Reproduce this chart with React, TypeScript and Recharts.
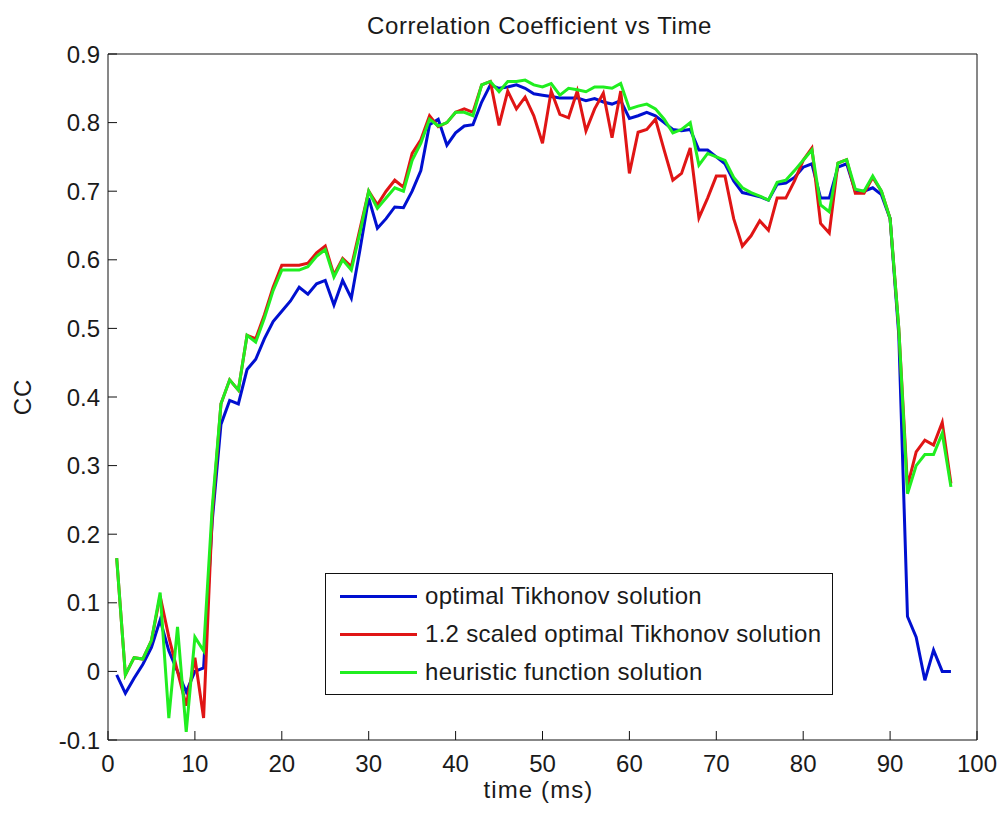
import { LineChart, Line, XAxis, YAxis, Legend } from "recharts";

const times = [
  1, 2, 3, 4, 5, 6, 7, 8, 9, 10, 11, 12, 13, 14, 15, 16, 17, 18, 19, 20,
  21, 22, 23, 24, 25, 26, 27, 28, 29, 30, 31, 32, 33, 34, 35, 36, 37, 38, 39, 40,
  41, 42, 43, 44, 45, 46, 47, 48, 49, 50, 51, 52, 53, 54, 55, 56, 57, 58, 59, 60,
  61, 62, 63, 64, 65, 66, 67, 68, 69, 70, 71, 72, 73, 74, 75, 76, 77, 78, 79, 80,
  81, 82, 83, 84, 85, 86, 87, 88, 89, 90, 91, 92, 93, 94, 95, 96, 97,
];

const optimal = [
  -0.005, -0.032, -0.01, 0.01, 0.035, 0.075, 0.03, 0.0, -0.03, 0.0,
  0.005, 0.22, 0.36, 0.395, 0.39, 0.44, 0.455, 0.485, 0.51, 0.525,
  0.54, 0.56, 0.55, 0.565, 0.57, 0.534, 0.57, 0.544, 0.615, 0.69,
  0.646, 0.66, 0.677, 0.676, 0.7, 0.73, 0.797, 0.805, 0.767, 0.785,
  0.795, 0.797, 0.83, 0.855, 0.85, 0.852, 0.855, 0.85, 0.842, 0.84,
  0.838, 0.836, 0.836, 0.836, 0.832, 0.835, 0.83, 0.827, 0.832, 0.806,
  0.81, 0.815, 0.81, 0.8, 0.79, 0.788, 0.79, 0.76, 0.76, 0.75,
  0.74, 0.715, 0.698, 0.695, 0.692, 0.687, 0.71, 0.712, 0.72, 0.735,
  0.74, 0.69, 0.69, 0.735, 0.74, 0.7, 0.7, 0.705, 0.695, 0.66,
  0.49, 0.08, 0.05, -0.013, 0.031, 0.0, 0.0,
];

const scaled = [
  0.165, -0.005, 0.02, 0.018, 0.045, 0.11, 0.05, 0.0, -0.05, 0.02,
  -0.068, 0.23, 0.39, 0.425, 0.41, 0.49, 0.485, 0.52, 0.56, 0.592,
  0.592, 0.592, 0.595, 0.61, 0.62, 0.578, 0.602, 0.59, 0.645, 0.7,
  0.68, 0.7, 0.716, 0.706, 0.755, 0.775, 0.81, 0.794, 0.8, 0.815,
  0.82, 0.815, 0.855, 0.86, 0.796, 0.846, 0.82, 0.837, 0.81, 0.77,
  0.846, 0.812, 0.807, 0.846, 0.788, 0.82, 0.843, 0.778, 0.846, 0.726,
  0.786, 0.79, 0.805, 0.76, 0.716, 0.726, 0.763, 0.661, 0.69, 0.722,
  0.722, 0.66, 0.62, 0.635, 0.657, 0.643, 0.69, 0.69, 0.715, 0.745,
  0.763, 0.653, 0.639, 0.741, 0.746, 0.697, 0.697, 0.72, 0.7, 0.66,
  0.5, 0.27, 0.32, 0.337, 0.33, 0.363, 0.274,
];

const heuristic = [
  0.165, -0.005, 0.02, 0.018, 0.045, 0.115, -0.068, 0.065, -0.088, 0.05,
  0.03, 0.24, 0.39, 0.425, 0.41, 0.49, 0.48, 0.515, 0.555, 0.585,
  0.585, 0.585, 0.59, 0.605, 0.615, 0.575, 0.6, 0.585, 0.64, 0.7,
  0.675, 0.69, 0.705, 0.7, 0.745, 0.77, 0.805, 0.795, 0.8, 0.815,
  0.815, 0.81, 0.855, 0.86, 0.845, 0.86, 0.86, 0.862, 0.855, 0.852,
  0.857, 0.84, 0.85, 0.848, 0.845, 0.852, 0.852, 0.85, 0.857, 0.82,
  0.824, 0.827, 0.82, 0.805, 0.785, 0.79, 0.8, 0.738, 0.755, 0.75,
  0.745, 0.72, 0.705, 0.698, 0.693, 0.687, 0.713, 0.716, 0.73, 0.745,
  0.76, 0.68, 0.67, 0.741, 0.746, 0.703, 0.7, 0.722, 0.7, 0.66,
  0.5, 0.259, 0.3, 0.316, 0.316, 0.347, 0.269,
];

const xTicks = [0, 10, 20, 30, 40, 50, 60, 70, 80, 90, 100];
const yTicks = [-0.1, 0, 0.1, 0.2, 0.3, 0.4, 0.5, 0.6, 0.7, 0.8, 0.9];

const seriesNames = [
  "optimal Tikhonov solution",
  "1.2 scaled optimal Tikhonov solution",
  "heuristic function solution",
];
const seriesColors = ["#0010d0", "#e01515", "#20ee20"];

const data = times.map((t, i) => ({
  t,
  optimal: optimal[i],
  scaled: scaled[i],
  heuristic: heuristic[i],
}));

const FONT = "'Liberation Sans', Arial, Helvetica, sans-serif";
const tickStyle = { fontSize: 24, fill: "#1a1a1a", fontFamily: FONT };

const fmt = (v: number) => String(Math.round(v * 10) / 10);

// boxed legend, matlab style
const LegendBox = () => (
  <div
    style={{
      width: 508,
      height: 122,
      border: "1.5px solid #111",
      background: "#fff",
      fontFamily: FONT,
      fontSize: 24,
      letterSpacing: 0.3,
      color: "#1a1a1a",
      boxSizing: "border-box",
      paddingTop: 3,
    }}
  >
    {seriesNames.map((name, i) => (
      <div key={name} style={{ display: "flex", alignItems: "center", height: 38 }}>
        <span
          style={{
            display: "inline-block",
            width: 77,
            height: 3,
            marginLeft: 14,
            marginRight: 8,
            background: seriesColors[i],
          }}
        />
        <span>{name}</span>
      </div>
    ))}
  </div>
);

export default function App() {
  return (
    <div style={{ position: "absolute", left: 0, top: 0, width: 1004, height: 816, background: "#fff" }}>
      <div
        style={{
          position: "absolute",
          left: 100,
          width: 879,
          top: 12,
          textAlign: "center",
          fontFamily: FONT,
          fontSize: 24,
          letterSpacing: 0.6,
          color: "#1a1a1a",
        }}
      >
        Correlation Coefficient vs Time
      </div>
      <div
        style={{
          position: "absolute",
          left: 23,
          top: 397,
          transform: "translate(-50%, -50%) rotate(-90deg)",
          fontFamily: FONT,
          fontSize: 24,
          letterSpacing: 1,
          color: "#1a1a1a",
        }}
      >
        CC
      </div>
      <div
        style={{
          position: "absolute",
          left: 100,
          width: 877,
          top: 776,
          textAlign: "center",
          fontFamily: FONT,
          fontSize: 24,
          letterSpacing: 1.1,
          color: "#1a1a1a",
        }}
      >
        time (ms)
      </div>
      <LineChart
        width={1004}
        height={816}
        data={data}
        margin={{ top: 53, right: 26, bottom: 36, left: 48 }}
      >
        <XAxis
          dataKey="t"
          type="number"
          domain={[0, 100]}
          ticks={xTicks}
          allowDataOverflow
          height={40}
          stroke="#111"
          tickSize={-9}
          tickMargin={24}
          tick={tickStyle}
        />
        <XAxis
          xAxisId="top"
          orientation="top"
          dataKey="t"
          type="number"
          domain={[0, 100]}
          ticks={xTicks}
          height={1}
          stroke="#111"
          tickSize={-9}
          tick={false}
        />
        <YAxis
          type="number"
          domain={[-0.1, 0.9]}
          ticks={yTicks}
          allowDataOverflow
          width={60}
          stroke="#111"
          tickSize={-9}
          tickMargin={17}
          tick={tickStyle}
          tickFormatter={fmt}
        />
        <YAxis
          yAxisId="right"
          orientation="right"
          type="number"
          domain={[-0.1, 0.9]}
          ticks={yTicks}
          width={1}
          stroke="#111"
          tickSize={-9}
          tick={false}
        />
        <Legend
          layout="vertical"
          align="center"
          verticalAlign="middle"
          content={() => <LegendBox />}
          wrapperStyle={{ left: 325, top: 573, width: 508, height: 122 }}
        />
        <Line dataKey="optimal" name={seriesNames[0]} stroke={seriesColors[0]} strokeWidth={3} dot={false} type="linear" isAnimationActive={false} />
        <Line dataKey="scaled" name={seriesNames[1]} stroke={seriesColors[1]} strokeWidth={3} dot={false} type="linear" isAnimationActive={false} />
        <Line dataKey="heuristic" name={seriesNames[2]} stroke={seriesColors[2]} strokeWidth={3} dot={false} type="linear" isAnimationActive={false} />
      </LineChart>
    </div>
  );
}
